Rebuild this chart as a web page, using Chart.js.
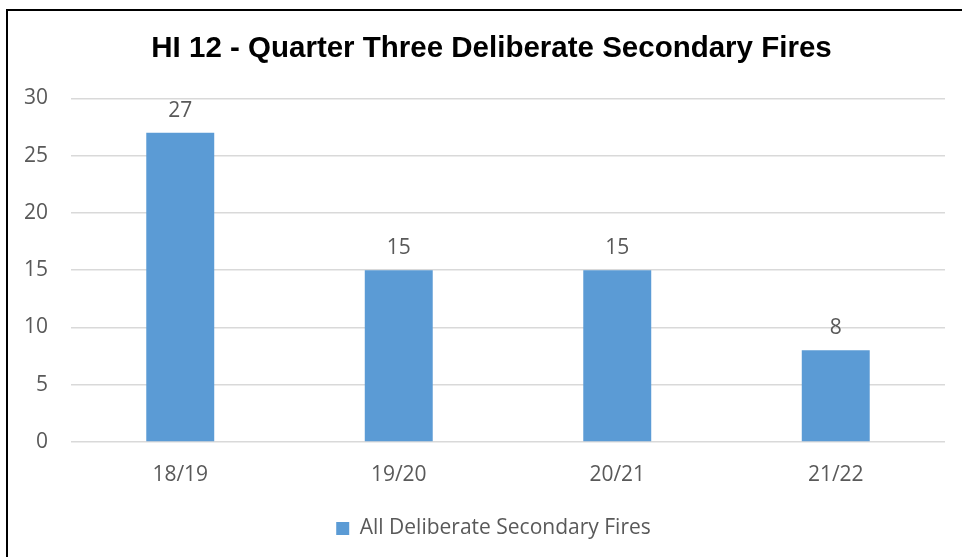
<!DOCTYPE html>
<html>
<head>
<meta charset="utf-8">
<script src="https://cdn.jsdelivr.net/npm/chart.js@4"></script>
<style>
  body { margin: 0; background: #fff; overflow: hidden; }
  .marco { position: absolute; left: 6px; top: 9px; width: 1000px; height: 600px;
           border-left: 2px solid #000; border-top: 2px solid #000; }
  .lienzo { position: absolute; left: 0; top: 0; width: 962px; height: 557px; }
</style>
</head>
<body>
<div class="marco"></div>
<div class="lienzo"><canvas id="grafico" width="962" height="557"></canvas></div>
<script>
// Datos del gráfico
const periodos = ['18/19', '19/20', '20/21', '21/22'];
const incendios = [27, 15, 15, 8];
const marcasY = [0, 5, 10, 15, 20, 25, 30];

const colorTexto = '#595959';
const fuente = '"Open Sans", sans-serif';

// Etiquetas de valor encima de cada barra
const etiquetasValor = {
    id: 'etiquetasValor',
    afterDatasetsDraw(chart) {
        const ctx = chart.ctx;
        const meta = chart.getDatasetMeta(0);
        ctx.save();
        ctx.font = '21px ' + fuente;
        ctx.fillStyle = colorTexto;
        ctx.textAlign = 'center';
        ctx.textBaseline = 'middle';
        meta.data.forEach((barra, i) => {
            ctx.fillText(incendios[i], barra.x, barra.y - 22);
        });
        ctx.restore();
    }
};

// En el original el título y la leyenda están algo corridos a la derecha
const desplazarCajas = {
    id: 'desplazarCajas',
    afterLayout(chart) {
        if (chart.titleBlock) { chart.titleBlock.left += 19; chart.titleBlock.right += 19; }
        if (chart.legend) { chart.legend.left += 21; chart.legend.right += 21; }
    }
};

new Chart(document.getElementById('grafico'), {
    type: 'bar',
    data: {
        labels: periodos,
        datasets: [{
            label: 'All Deliberate Secondary Fires',
            data: incendios,
            backgroundColor: '#5B9BD5',
            categoryPercentage: 1,
            barPercentage: 0.311
        }]
    },
    options: {
        responsive: false,
        animation: false,
        layout: { padding: { left: 0, right: 17, top: 0, bottom: 8 } },
        plugins: {
            title: {
                display: true,
                text: 'HI 12 - Quarter Three Deliberate Secondary Fires',
                color: '#000',
                font: { family: 'Arial, "Liberation Sans", sans-serif', size: 29.5, weight: 'bold' },
                padding: { top: 31, bottom: 32 }
            },
            legend: {
                position: 'bottom',
                labels: {
                    color: colorTexto,
                    font: { family: fuente, size: 21 },
                    boxWidth: 13,
                    boxHeight: 13
                }
            },
            tooltip: { enabled: false }
        },
        scales: {
            x: {
                grid: { display: false, drawTicks: false },
                border: { display: false },
                ticks: { color: colorTexto, font: { family: fuente, size: 21 }, padding: 20 },
                afterFit(escala) { escala.height = 66; }
            },
            y: {
                min: 0,
                max: 30,
                afterBuildTicks(escala) { escala.ticks = marcasY.map(v => ({ value: v })); },
                grid: { color: '#d9d9d9', lineWidth: 1.5, drawTicks: false },
                border: { display: false },
                ticks: { color: colorTexto, font: { family: fuente, size: 21 }, padding: 23 },
                afterFit(escala) { escala.width = 71; }
            }
        }
    },
    plugins: [etiquetasValor, desplazarCajas]
});
</script>
</body>
</html>
